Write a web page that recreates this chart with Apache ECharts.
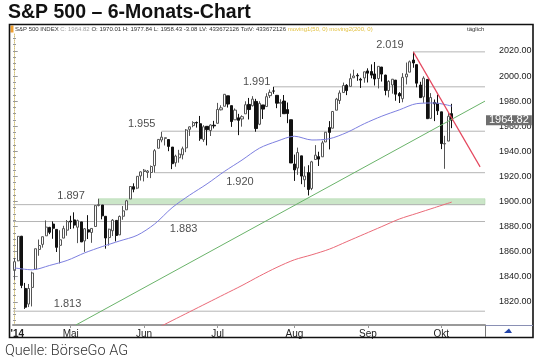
<!DOCTYPE html>
<html><head><meta charset="utf-8">
<script src="https://cdn.jsdelivr.net/npm/echarts@6/dist/echarts.min.js"></script>
<style>html,body{margin:0;padding:0;background:#fff}#c{width:540px;height:362px}</style>
</head><body><div id="c"></div>
<script>
// ---- data ----
const dates = [
'2014-04-08','2014-04-09','2014-04-10','2014-04-11','2014-04-14','2014-04-15','2014-04-16','2014-04-17','2014-04-21','2014-04-22','2014-04-23','2014-04-24','2014-04-25','2014-04-28','2014-04-29','2014-04-30',
'2014-05-01','2014-05-02','2014-05-05','2014-05-06','2014-05-07','2014-05-08','2014-05-09','2014-05-12','2014-05-13','2014-05-14','2014-05-15','2014-05-16','2014-05-19','2014-05-20','2014-05-21','2014-05-22','2014-05-23','2014-05-27','2014-05-28','2014-05-29','2014-05-30',
'2014-06-02','2014-06-03','2014-06-04','2014-06-05','2014-06-06','2014-06-09','2014-06-10','2014-06-11','2014-06-12','2014-06-13','2014-06-16','2014-06-17','2014-06-18','2014-06-19','2014-06-20','2014-06-23','2014-06-24','2014-06-25','2014-06-26','2014-06-27','2014-06-30',
'2014-07-01','2014-07-02','2014-07-03','2014-07-07','2014-07-08','2014-07-09','2014-07-10','2014-07-11','2014-07-14','2014-07-15','2014-07-16','2014-07-17','2014-07-18','2014-07-21','2014-07-22','2014-07-23','2014-07-24','2014-07-25','2014-07-28','2014-07-29','2014-07-30','2014-07-31',
'2014-08-01','2014-08-04','2014-08-05','2014-08-06','2014-08-07','2014-08-08','2014-08-11','2014-08-12','2014-08-13','2014-08-14','2014-08-15','2014-08-18','2014-08-19','2014-08-20','2014-08-21','2014-08-22','2014-08-25','2014-08-26','2014-08-27','2014-08-28','2014-08-29',
'2014-09-02','2014-09-03','2014-09-04','2014-09-05','2014-09-08','2014-09-09','2014-09-10','2014-09-11','2014-09-12','2014-09-15','2014-09-16','2014-09-17','2014-09-18','2014-09-19','2014-09-22','2014-09-23','2014-09-24','2014-09-25','2014-09-26','2014-09-29','2014-09-30',
'2014-10-01','2014-10-02','2014-10-03','2014-10-06'];
const padDates = ['2014-10-07','2014-10-08','2014-10-09','2014-10-10','2014-10-13','2014-10-14','2014-10-15','2014-10-16','2014-10-17'];

const opens = [
1845.48,1852.64,1872.28,1830.65,1818.18,1831.45,1846.01,1861.73,1865.79,1872.57,1879.32,1881.97,1877.72,1865.00,1870.78,1877.10,
1884.39,1885.30,1879.45,1883.69,1868.53,1877.39,1875.27,1880.03,1896.75,1897.13,1888.16,1871.19,1876.66,1884.88,1873.34,1888.19,1893.32,1902.01,1911.77,1910.60,1920.33,
1923.87,1923.07,1923.06,1928.52,1942.41,1948.97,1950.34,1949.37,1943.35,1930.80,1934.84,1937.15,1942.73,1957.50,1960.45,1962.92,1961.97,1949.27,1959.89,1956.56,1960.79,
1962.29,1973.06,1975.88,1984.22,1976.39,1965.10,1966.67,1965.76,1969.86,1977.36,1976.35,1979.75,1961.54,1976.93,1975.65,1984.34,1988.07,1984.60,1978.25,1980.03,1973.21,1965.14,
1929.80,1926.62,1936.34,1917.29,1923.03,1910.35,1933.43,1935.73,1935.60,1947.41,1958.87,1958.36,1972.73,1980.46,1986.82,1992.60,1991.74,1998.59,2000.54,1997.42,1998.45,
2004.07,2003.57,2001.67,1998.00,2007.17,2000.73,1988.41,1992.85,1996.74,1986.04,1981.93,1999.30,2003.07,2012.74,2009.08,1992.78,1983.34,1997.32,1966.22,1978.96,1978.21,
1971.44,1945.83,1948.12,1970.01];
const highs = [
1854.95,1872.43,1872.53,1835.07,1834.19,1844.02,1862.31,1869.63,1871.89,1884.89,1879.75,1884.06,1877.72,1877.01,1880.60,1885.20,
1888.59,1891.33,1885.51,1883.69,1878.83,1889.07,1878.57,1897.13,1902.17,1897.13,1888.16,1878.28,1886.00,1884.88,1888.80,1896.33,1901.26,1912.28,1914.46,1920.03,1924.03,
1925.88,1925.07,1928.63,1941.74,1949.44,1955.55,1950.86,1949.37,1943.35,1937.30,1941.15,1943.69,1957.74,1959.87,1963.91,1963.74,1968.17,1960.83,1959.89,1961.47,1964.24,
1978.58,1976.67,1985.59,1984.22,1976.39,1974.15,1969.84,1968.67,1979.85,1982.52,1983.94,1981.80,1979.91,1976.93,1986.24,1989.23,1991.39,1984.60,1981.52,1984.85,1978.90,1965.14,
1937.35,1942.92,1936.34,1927.91,1928.89,1932.38,1944.90,1939.65,1948.41,1955.23,1964.04,1971.99,1982.57,1988.57,1994.76,1993.54,2001.95,2005.04,2002.14,1998.55,2003.38,
2006.12,2009.28,2011.17,2007.71,2007.17,2001.01,1996.66,1997.65,1996.74,1987.18,2002.28,2010.74,2012.34,2019.26,2009.08,1995.41,1999.79,1997.32,1986.37,1981.28,1985.17,
1971.44,1952.32,1971.19,1977.84];
const lows = [
1837.49,1852.38,1830.87,1814.36,1815.80,1816.29,1846.01,1856.72,1863.18,1872.57,1873.91,1870.24,1859.70,1850.61,1870.78,1872.69,
1878.04,1878.50,1866.77,1867.72,1859.79,1870.05,1867.02,1880.03,1896.06,1885.77,1862.36,1864.82,1872.42,1868.14,1873.34,1885.39,1893.32,1902.01,1907.30,1909.82,1916.64,
1915.98,1918.79,1918.60,1922.93,1942.41,1947.16,1944.64,1940.08,1925.78,1927.69,1930.91,1933.55,1939.29,1952.26,1959.17,1958.89,1948.34,1947.49,1944.69,1952.18,1958.22,
1962.29,1972.58,1975.88,1974.88,1959.46,1965.10,1952.86,1959.63,1969.86,1965.34,1975.67,1955.59,1960.82,1965.77,1975.65,1982.44,1985.79,1974.37,1967.31,1969.95,1962.42,1930.67,
1916.37,1921.20,1913.77,1911.45,1904.78,1909.01,1933.43,1928.29,1935.60,1947.41,1941.50,1958.36,1972.73,1977.68,1986.82,1984.76,1991.74,1998.59,1996.20,1990.52,1994.65,
1994.85,1998.14,1992.44,1990.10,1995.60,1984.61,1982.99,1985.93,1980.26,1978.48,1979.06,1993.29,2003.07,2006.59,1991.01,1982.77,1978.63,1965.99,1966.22,1964.04,1968.96,
1941.72,1926.03,1948.12,1958.43];
const closes = [
1851.96,1872.18,1833.08,1815.69,1830.61,1842.98,1862.31,1864.85,1871.89,1879.55,1875.39,1878.61,1863.40,1869.43,1878.33,1883.95,
1883.68,1881.14,1884.66,1867.72,1878.21,1875.63,1878.48,1896.65,1897.45,1888.53,1870.85,1877.86,1885.08,1872.83,1888.03,1892.49,1900.53,1911.91,1909.78,1920.03,1923.57,
1924.97,1924.24,1927.88,1940.46,1949.44,1951.27,1950.79,1943.89,1930.11,1936.16,1937.78,1941.99,1956.98,1959.48,1962.87,1962.61,1949.98,1959.53,1957.22,1960.96,1960.23,
1973.32,1974.62,1985.44,1977.65,1963.71,1972.83,1964.68,1967.57,1977.10,1973.28,1981.57,1958.12,1978.22,1973.63,1983.53,1987.01,1987.98,1978.34,1978.91,1969.95,1970.07,1930.67,
1925.15,1938.99,1920.21,1920.24,1909.57,1931.59,1936.92,1933.75,1946.72,1955.18,1955.06,1971.74,1981.60,1986.51,1992.37,1988.40,1997.92,2000.02,2000.12,1996.74,2003.37,
2002.28,2000.72,1997.65,2007.71,2001.54,1988.44,1995.69,1997.45,1985.54,1984.13,1998.98,2001.57,2011.36,2010.40,1994.29,1982.77,1998.30,1965.99,1982.85,1977.80,1972.29,
1946.16,1946.17,1967.90,1964.82];

// moving averages (trading-day index, value)
const ma50Idx = [0,5,10,15,20,25,30,35,40,45,50,55,60,65,70,75,80,85,90,95,100,105,110,115,120,125];
const ma50Val = [1847,1845.5,1849,1853,1859,1864,1868.5,1873,1882,1895,1905,1914,1924,1933,1942.5,1948,1952,1949,1950,1955,1962,1968,1973,1978,1978.5,1976];
const ma200Idx = [35,40,45,50,55,60,65,70,75,80,85,90,95,100,105,110,115,120,125];
const ma200Val = [1792,1798,1805,1812,1819,1826,1833,1840.5,1847.5,1853.5,1857.5,1862,1868,1874,1880,1886,1890.5,1895,1899.5];

// trend lines (index, value)
const upTrend = [[17.5,1801.5],[134.5,1980]];
const downTrend = [[114,2019.26],[133.1,1927.6]];

// horizontal support / resistance levels
const levelVal  = [2019.26, 1991.39, 1956.0, 1922.93, 1897.45, 1884.0, 1812.5];
const levelFrom = [114, 74, 42, 40, -0.5, -0.5, -0.5];
const bandFrom = 24, bandLow = 1897.45, bandHigh = 1902.17;

// annotations
const annoText = ['2.019','1.991','1.955','1.920','1.897','1.883','1.813'];
const annoIdx  = [107.3, 69.2, 36.3, 64.4, 16.1, 48.3, 15.1];
const annoVal  = [2024.7, 1995.5, 1961.7, 1915.7, 1904.6, 1877.8, 1818.2];

const yTicks = [1820,1840,1860,1880,1900,1920,1940,1960,1980,2000,2020];
const lastPrice = 1964.82;
const monthNames = {'05':'Mai','06':'Jun','07':'Jul','08':'Aug','09':'Sep','10':'Okt'};

// ---- chart ----
const allDates = dates.concat(padDates);
const N = allDates.length;
const isMonthStart = i => i === 0 || allDates[i].slice(5,7) !== allDates[i-1].slice(5,7);
const minor = []; for (let v = 1805; v <= 2030; v += 5) minor.push(v);
const YMIN = 1801.5, YMAX = 2033.5;

const levelSeries = levelVal.map((v, k) => ({
  type:'line', xAxisIndex:1, yAxisIndex:0, silent:true, symbol:'none', z:1,
  lineStyle:{color:'#b4b4b4', width:1},
  data:[[levelFrom[k], v],[N-0.5, v]]
}));

const chart = echarts.init(document.getElementById('c'), null, {renderer:'canvas'});
chart.setOption({
  animation:false,
  backgroundColor:'#fff',
  grid:{left:13, right:55, top:34, bottom:37},
  xAxis:[{
    type:'category', data:allDates, boundaryGap:true,
    axisLine:{show:true, lineStyle:{color:'#9a9a9a', width:2}},
    axisTick:{show:true, alignWithLabel:true, interval:(i)=>isMonthStart(i) && i>0, length:3, lineStyle:{color:'#999'}},
    axisLabel:{interval:(i)=>isMonthStart(i), margin:4, fontSize:10, color:'#222', fontFamily:'Liberation Sans',
      formatter:(v,i)=> i===0 ? "{y|'14}" : monthNames[v.slice(5,7)],
      rich:{y:{fontSize:10, fontWeight:'bold', color:'#222', padding:[0,0,0,5]}}},
    splitLine:{show:false}
  },{
    type:'value', min:-0.5, max:N-0.5, show:false
  }],
  yAxis:[{
    type:'value', position:'right', min:YMIN, max:YMAX, scale:true,
    axisLine:{show:true, lineStyle:{color:'#d2c17c', type:'dotted', width:1}},
    axisTick:{show:true, customValues:yTicks, length:3, inside:false, lineStyle:{color:'#999'}},
    axisLabel:{customValues:yTicks, formatter:v=>v.toFixed(2), fontSize:9, color:'#222', margin:14,
      fontFamily:'Liberation Sans', padding:[4,0,0,0]},
    splitLine:{show:false}
  },{
    type:'value', position:'right', min:YMIN, max:YMAX, scale:true,
    axisLine:{show:false}, axisTick:{show:false}, splitLine:{show:false},
    axisLabel:{customValues:[lastPrice], formatter:v=>v.toFixed(2), fontSize:11, color:'#fff',
      backgroundColor:'#6e6e6e', padding:[0,3,0,3], lineHeight:10, margin:1, fontFamily:'Liberation Sans'}
  },{
    type:'value', position:'left', min:YMIN, max:YMAX, scale:true,
    axisLine:{show:false}, axisLabel:{show:false}, splitLine:{show:false},
    axisTick:{show:true, inside:true, customValues:minor, length:3, lineStyle:{color:'#999'}}
  }],
  series:[
    ...levelSeries,
    {
      type:'line', xAxisIndex:1, yAxisIndex:0, silent:true, symbol:'none', z:1,
      lineStyle:{width:0}, data:[[bandFrom,bandLow],[N-0.5,bandLow]],
      markArea:{silent:true, itemStyle:{color:'#cbe6c8', borderColor:'#b2d8ae', borderWidth:0.6},
        data:[[{coord:[bandFrom,bandHigh]},{coord:[N-0.5,bandLow]}]]}
    },
    {
      type:'candlestick', xAxisIndex:0, yAxisIndex:0, z:3, barWidth:2.6,
      data:dates.map((d,i)=>[opens[i],closes[i],lows[i],highs[i]]),
      itemStyle:{color:'#ffffff', color0:'#111111', borderColor:'#555555', borderColor0:'#111111', borderWidth:1}
    },
    {
      type:'line', xAxisIndex:1, yAxisIndex:0, symbol:'none', z:4, smooth:0.3,
      lineStyle:{color:'#7d7fe0', width:1},
      data:ma50Idx.map((x,k)=>[x,ma50Val[k]])
    },
    {
      type:'line', xAxisIndex:1, yAxisIndex:0, symbol:'none', z:4, smooth:0.3,
      lineStyle:{color:'#ea6a78', width:1},
      data:ma200Idx.map((x,k)=>[x,ma200Val[k]])
    },
    {
      type:'line', xAxisIndex:1, yAxisIndex:0, symbol:'none', z:4,
      lineStyle:{color:'#6ab36a', width:1}, data:upTrend
    },
    {
      type:'line', xAxisIndex:1, yAxisIndex:0, symbol:'none', z:4,
      lineStyle:{color:'#e4475e', width:1.2}, data:downTrend
    },
    {
      type:'scatter', xAxisIndex:1, yAxisIndex:0, symbolSize:1, z:5, silent:true,
      itemStyle:{color:'rgba(0,0,0,0)'},
      label:{show:true, position:'inside', formatter:p=>p.data.name, fontSize:11, color:'#222', fontFamily:'Liberation Sans'},
      data:annoText.map((t,k)=>({name:t, value:[annoIdx[k], annoVal[k]]}))
    }
  ],
  graphic:[
    {type:'text', x:8, y:13, z:100, style:{text:'S&P 500 – 6-Monats-Chart', font:'bold 19.5px "Liberation Sans", Arial, sans-serif', fill:'#111', textVerticalAlign:'middle'}},
    {type:'text', x:5, y:351, z:100, style:{text:'Quelle: BörseGo AG', font:'300 14.5px Roboto, "Liberation Sans", sans-serif', fill:'#333', textVerticalAlign:'middle'}},
    {type:'text', x:15, y:29.5, z:100, style:{
      text:'{a|S&P 500 INDEX }{b|C: 1964.82}{a| O: 1970.01 H: 1977.84 L: 1958.43 -3.08 LV: 433672126 TotV: 433672126 }{c|moving1(50, 0) moving2(200, 0)}',
      textVerticalAlign:'middle',
      rich:{a:{fontSize:6, fill:'#333', fontFamily:'Liberation Sans'}, b:{fontSize:6, fill:'#a0a0a0', fontFamily:'Liberation Sans'}, c:{fontSize:6, fill:'#e2c040', fontFamily:'Liberation Sans'}}}},
    {type:'text', x:467, y:29.5, z:100, style:{text:'täglich', font:'6px "Liberation Sans"', fill:'#333', textVerticalAlign:'middle'}},
    {type:'rect', z:100, shape:{x:10.5, y:25.5, width:3, height:7}, style:{fill:'#f0a030'}},
    {type:'rect', z:100, shape:{x:9.5, y:24.5, width:523.5, height:313}, style:{fill:'none', stroke:'#111', lineWidth:1.6}},
    {type:'line', z:100, shape:{x1:485.5, y1:325, x2:485.5, y2:337}, style:{stroke:'#777', lineWidth:1}},
    {type:'line', z:100, shape:{x1:485.5, y1:325.5, x2:533, y2:325.5}, style:{stroke:'#8a90b4', lineWidth:1}},
    {type:'polygon', z:100, shape:{points:[[504,333],[509,328.5],[512,333]]}, style:{fill:'#2344a8'}}
  ]
});
</script></body></html>
